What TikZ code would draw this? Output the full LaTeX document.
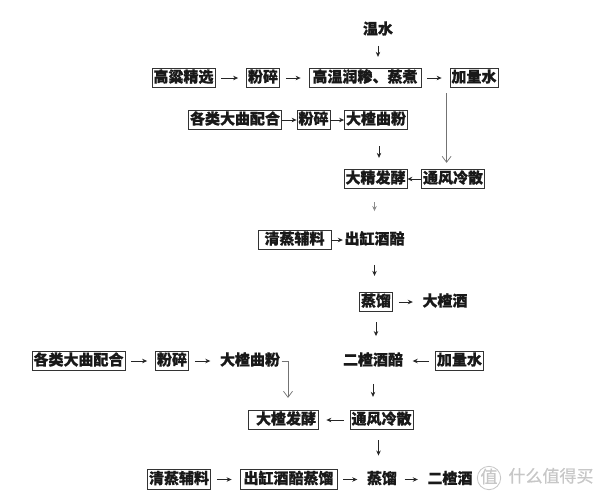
\documentclass[tikz,border=0pt]{standalone}
\usepackage{fontspec}
\setmainfont{Noto Sans CJK SC}[FakeBold=0.6]
\usetikzlibrary{arrows.meta,calc}
\begin{document}
\begin{tikzpicture}[x=1pt,y=-1pt,
 every node/.style={font=\fontsize{15}{15}\selectfont\bfseries, text=black!90, inner xsep=1.5pt, inner ysep=3pt, text height=11pt, text depth=2.5pt},
 box/.style={draw=black!80, line width=0.8pt},
 arr/.style={-{Stealth[length=5pt,width=4.5pt]}, line width=0.8pt, draw=black!85},
 gap/.style={shorten <=6pt, shorten >=8pt},
 garr/.style={-{Straight Barb[length=6pt,width=9pt]}, draw=black!55, line width=0.7pt},
 wm/.style={text=black!22, font=\fontsize{17}{17}\selectfont}]
\fill[white] (0,0) rectangle (600,496);
% row 0
\node (ws) at (378,30) {温水};
% row 1
\node[box] (r1a) at (183.5,78) {高粱精选};
\node[box] (r1b) at (263,78) {粉碎};
\node[box, minimum width=112pt] (r1c) at (365,78) {高温润糁、蒸煮};
\node[box] (r1d) at (474,78) {加量水};
% row 2
\node[box] (r2a) at (235,120) {各类大曲配合};
\node[box] (r2b) at (313.5,120) {粉碎};
\node[box] (r2c) at (376,120) {大楂曲粉};
% row 3
\node[box] (r3a) at (375.5,179) {大精发酵};
\node[box] (r3b) at (453,179) {通风冷散};
% row 4
\node[box, minimum width=73pt] (r4a) at (294.5,240) {清蒸辅料};
\node (r4b) at (374.5,240) {出缸酒醅};
% row 5
\node[box] (r5a) at (376,302) {蒸馏};
\node (r5b) at (445,302) {大楂酒};
% row 6
\node[box] (r6a) at (78.5,361) {各类大曲配合};
\node[box] (r6b) at (172,361) {粉碎};
\node (r6c) at (250,361) {大楂曲粉};
\node (r6d) at (373,361) {二楂酒醅};
\node[box] (r6e) at (459.5,361) {加量水};
% row 7
\node[box, minimum width=70pt] (r7a) at (283,420) {\hspace*{6pt}大楂发酵};
\node[box] (r7b) at (381.5,420) {通风冷散};
% row 8
\node[box] (r8a) at (179,479.5) {清蒸辅料};
\node[box, minimum width=97pt] (r8b) at (288.5,479.5) {出缸酒醅蒸馏};
\node (r8c) at (382,479.5) {蒸馏};
\node (r8d) at (450,479.5) {二楂酒};
% watermark
\node[wm, circle, draw=black!22, line width=0.8pt, inner sep=0.5pt, text height=12pt, text depth=2pt] (wmlogo) at (489,478) {值};
\node[wm] (wmtext) at (551,478) {什么值得买};

% connectors
\draw[arr, shorten <=6pt, shorten >=11pt] (ws.south) -- (ws.south |- r1c.north);
\draw[arr, gap] (r1a.east) -- (r1b.west);
\draw[arr, gap] (r1b.east) -- (r1c.west);
\draw[arr, gap] (r1c.east) -- (r1d.west);
\draw[arr] (r2a.east) -- (r2b.west);
\draw[arr] (r2b.east) -- (r2c.west);
\draw[garr, shorten <=5pt, shorten >=6pt] ($(r1d.south west)+(-3,0)$) -- ($(r1d.south west |- r3b.north)+(-3,0)$);
\draw[arr, shorten <=16pt, shorten >=11pt] ($(r2c.south)+(3,0)$) -- ($(r2c.south |- r3a.north)+(3,0)$);
\draw[arr] (r3b.west) -- (r3a.east);
\draw[arr, draw=black!45, shorten <=13pt, shorten >=19pt] ($(r3a.south)+(-1,0)$) -- ($(r3a.south |- r4b.north)+(-1,0)$);
\draw[arr] (r4a.east) -- (r4b.west);
\draw[arr, shorten <=15pt, shorten >=16pt] (r4b.south) -- (r4b.south |- r5a.north);
\draw[arr, gap] (r5a.east) -- (r5b.west);
\draw[arr, shorten <=10pt, shorten >=15pt] (r5a.south) -- (r5a.south |- r6d.north);
\draw[arr, gap] (r6a.east) -- (r6b.west);
\draw[arr, gap] (r6b.east) -- (r6c.west);
\draw[garr, shorten >=12pt] (r6c.east) -| ($(r7a.north)+(5,0)$);
\draw[arr, gap] (r6e.west) -- (r6d.east);
\draw[arr, shorten <=13pt, shorten >=13pt] (r6d.south) -- (r6d.south |- r7b.north);
\draw[arr, gap] (r7b.west) -- (r7a.east);
\draw[arr, shorten <=10pt, shorten >=14pt] ($(r7b.south)+(-3,0)$) -- ($(r7b.south |- r8c.north)+(-3,0)$);
\draw[arr, gap] (r8a.east) -- (r8b.west);
\draw[arr, gap] (r8b.east) -- (r8c.west);
\draw[arr, gap] (r8c.east) -- (r8d.west);
\end{tikzpicture}
\end{document}
